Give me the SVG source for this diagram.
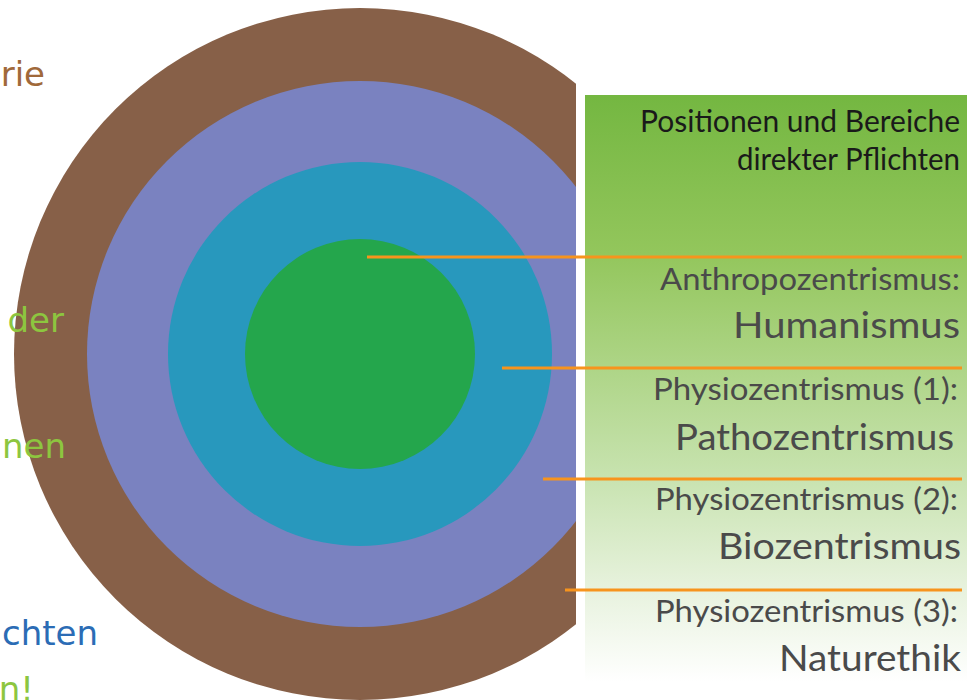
<svg xmlns="http://www.w3.org/2000/svg" width="967" height="700" viewBox="0 0 967 700">
<style>
.frag{font-family:"DejaVu Sans",Verdana,sans-serif;font-size:34px;text-anchor:end}
.ptxt{font-family:Lato,"Open Sans",sans-serif;text-anchor:end;fill:#4a4a4a}
.title{fill:#1a1a1a;font-size:30px}
.small{font-size:30px}
.big{font-size:36px}
.conn{stroke:#f7941d;stroke-width:3;fill:none}
</style>
<defs>
<clipPath id="cut"><rect x="0" y="0" width="576" height="700"/></clipPath>
<linearGradient id="pg" x1="0" y1="0" x2="0" y2="1">
<stop offset="0" stop-color="#74b741"/>
<stop offset="0.27" stop-color="#93c65c"/>
<stop offset="0.64" stop-color="#c6e2ad"/>
<stop offset="0.84" stop-color="#e7f2dd"/>
<stop offset="1" stop-color="#ffffff"/>
</linearGradient>
</defs>
<rect width="967" height="700" fill="#ffffff"/>
<g id="rings" clip-path="url(#cut)">
<g id="ring-nature"><circle cx="360" cy="354" r="346" fill="#876048"/></g>
<g id="ring-bio"><circle cx="360" cy="354" r="273" fill="#7a82c0"/></g>
<g id="ring-patho"><circle cx="360" cy="354" r="192" fill="#2898bd"/></g>
<g id="ring-human"><circle cx="360" cy="354" r="115" fill="#24a64c"/></g>
</g>
<g id="fragments">
<text class="frag" x="45" y="86" fill="#a0693a">rie</text>
<text class="frag" x="64" y="332" fill="#8dc63f">der</text>
<text class="frag" x="66" y="458" fill="#8dc63f">nen</text>
<text class="frag" x="98" y="645" fill="#2b6cb5">chten</text>
<text class="frag" x="34" y="701" fill="#8dc63f">n!</text>
</g>
<g id="panel">
<rect x="585" y="95" width="382" height="587" fill="url(#pg)"/>
<text class="ptxt title" x="960" y="132" textLength="320" lengthAdjust="spacingAndGlyphs">Positionen und Bereiche</text>
<text class="ptxt title" x="960" y="170" textLength="223" lengthAdjust="spacingAndGlyphs">direkter Pflichten</text>
</g>
<g id="label-human">
<text class="ptxt small" x="960" y="290" textLength="300" lengthAdjust="spacingAndGlyphs">Anthropozentrismus:</text>
<text class="ptxt big" x="960" y="338" textLength="227" lengthAdjust="spacingAndGlyphs">Humanismus</text>
</g>
<g id="label-patho">
<text class="ptxt small" x="958" y="400" textLength="305" lengthAdjust="spacingAndGlyphs">Physiozentrismus (1):</text>
<text class="ptxt big" x="954" y="450" textLength="279" lengthAdjust="spacingAndGlyphs">Pathozentrismus</text>
</g>
<g id="label-bio">
<text class="ptxt small" x="958" y="510" textLength="303" lengthAdjust="spacingAndGlyphs">Physiozentrismus (2):</text>
<text class="ptxt big" x="961" y="559" textLength="243" lengthAdjust="spacingAndGlyphs">Biozentrismus</text>
</g>
<g id="label-nature">
<text class="ptxt small" x="958" y="622" textLength="303" lengthAdjust="spacingAndGlyphs">Physiozentrismus (3):</text>
<text class="ptxt big" x="961" y="671" textLength="182" lengthAdjust="spacingAndGlyphs">Naturethik</text>
</g>
<g id="connectors">
<line class="conn" x1="367" y1="257" x2="962" y2="257"/>
<line class="conn" x1="502" y1="368" x2="962" y2="368"/>
<line class="conn" x1="543" y1="479" x2="962" y2="479"/>
<line class="conn" x1="565" y1="590" x2="962" y2="590"/>
</g>
</svg>
